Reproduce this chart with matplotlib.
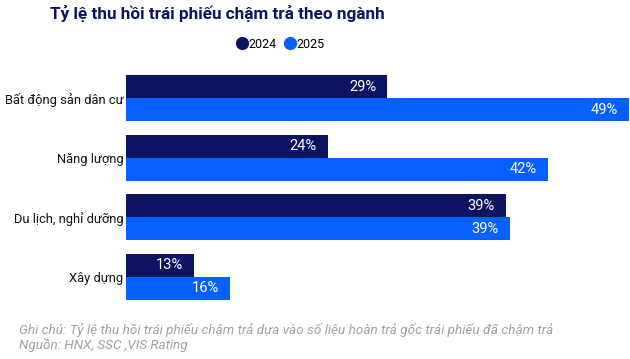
import numpy as np
import matplotlib
matplotlib.use("Agg")
import matplotlib.pyplot as plt
from matplotlib.lines import Line2D

plt.rcParams['font.family'] = ['Roboto', 'DejaVu Sans']

# du lieu doc tu hinh
categories = ["Bất động sản dân cư", "Năng lượng", "Du lịch, nghỉ dưỡng", "Xây dựng"]
v2024 = [29.0, 24.1, 38.8, 13.0]
v2025 = [49.0, 42.3, 39.1, 16.0]
years = ["2024", "2025"]
colors = ["#0c1461", "#0561fe"]

title = "Tỷ lệ thu hồi trái phiếu chậm trả theo ngành"
note = "Ghi chú: Tỷ lệ thu hồi trái phiếu chậm trả dựa vào số liệu hoàn trả gốc trái phiếu đã chậm trả"
source = "Nguồn: HNX, SSC ,VIS Rating"

W, H = 630, 359
fig = plt.figure(figsize=(W / 100, H / 100), dpi=100)
ax = fig.add_axes([126 / W, (H - 300) / H, 1 - 126 / W, 225 / H])

y = np.arange(len(categories))
h = 0.39
b1 = ax.barh(y - h / 2, v2024, height=h, color=colors[0])
b2 = ax.barh(y + h / 2, v2025, height=h, color=colors[1])

for bars, vals in ((b1, v2024), (b2, v2025)):
    for bar, v in zip(bars, vals):
        ax.annotate(f"{v:.0f}%", (v, bar.get_y() + bar.get_height() / 2),
                    xytext=(-8, 0), textcoords="offset points",
                    ha="right", va="center", color="white", fontsize=10.5)

ax.set_xlim(7.4, 49.05)
ax.set_ylim(len(categories) - 1 + h, -h)
ax.set_yticks(y)
ax.set_yticklabels(categories, fontsize=9.3, color="#111111")
ax.tick_params(axis="y", length=0, pad=2)
ax.set_xticks([])
for s in ax.spines.values():
    s.set_visible(False)

fig.text(50 / W, 1 - 13 / H, title, fontsize=12.3, fontweight="bold",
         color="#0c1461", va="center", ha="left")

handles = [Line2D([], [], marker="o", linestyle="", markersize=8.5,
                  color=c) for c in colors]
fig.legend(handles, years, loc="center", bbox_to_anchor=(280 / W, 1 - 44 / H),
           ncol=2, frameon=False, fontsize=9, handletextpad=0.0,
           columnspacing=0.6, handlelength=1.0, borderpad=0)

fig.text(19 / W, 1 - 330 / H, note, fontsize=9.7, style="italic",
         color="#a0a0a0", va="center", ha="left")
fig.text(19 / W, 1 - 345 / H, source, fontsize=9.7, style="italic",
         color="#a0a0a0", va="center", ha="left")

fig.savefig("out.png", dpi=100)
